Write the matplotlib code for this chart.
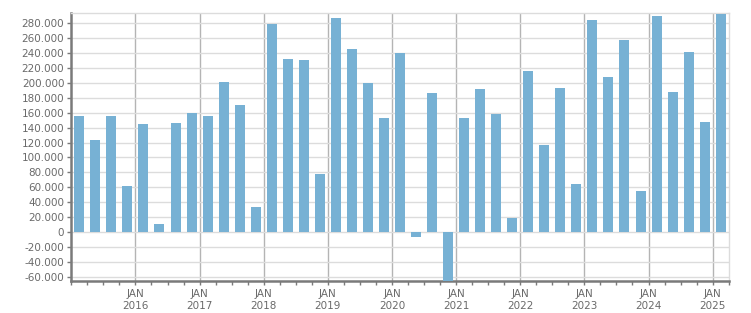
import matplotlib
matplotlib.use("Agg")
import matplotlib.pyplot as plt
from matplotlib.ticker import FuncFormatter, MultipleLocator, FixedLocator

# Quarterly values, 2015 Q1 .. 2025 Q1
quarters = [f"{y} Q{q}" for y in range(2015, 2026) for q in range(1, 5)][:41]
values = [
    155600, 123400, 155600, 61700,
    144800, 10700, 146200, 159600,
    155600, 201200, 170300, 33500,
    278900, 232000, 230700, 77800,
    287000, 245400, 199800, 152900,
    240000, -6700, 186400, -70000,
    152900, 191800, 158200, 18800,
    215900, 116700, 193100, 64400,
    284300, 207900, 257500, 55000,
    289700, 187700, 241400, 147500,
    292300,
]
year_labels = [f"JAN\n{y}" for y in range(2016, 2026)]

bar_color = "#77B1D4"
text_color = "#6a6a6a"

fig = plt.figure(figsize=(7.51, 3.13), dpi=100)
ax = fig.add_axes([71.3 / 751, 1 - 280.7 / 313, (728.7 - 71.3) / 751, (280.7 - 13.3) / 313])

x = [i + 0.5 for i in range(len(values))]
ax.bar(x, values, width=0.625, color=bar_color, zorder=3)

ax.set_xlim(0, 41)
ax.set_ylim(-65300, 293400)

ax.yaxis.set_major_locator(MultipleLocator(20000))
ax.yaxis.set_major_formatter(FuncFormatter(lambda v, p: f"{int(round(v)):,}".replace(",", ".")))

ax.xaxis.set_major_locator(FixedLocator([4 * (k + 1) for k in range(len(year_labels))]))
ax.set_xticklabels(year_labels)
ax.xaxis.set_minor_locator(MultipleLocator(1))

ax.grid(axis="y", color="#dcdcdc", linewidth=1.0, zorder=0)
ax.grid(axis="x", which="major", color="#b4b4b4", linewidth=1.0, zorder=1)

for s in ["top", "right"]:
    ax.spines[s].set_color("#dcdcdc")
    ax.spines[s].set_linewidth(1.0)
for s in ["left", "bottom"]:
    ax.spines[s].set_color("#7a7a7a")
    ax.spines[s].set_linewidth(1.8)

ax.tick_params(axis="y", which="major", length=3, width=1, color="#7a7a7a",
               labelsize=7.5, labelcolor=text_color, pad=2)
ax.tick_params(axis="x", which="both", length=3, width=1, color="#7a7a7a",
               labelsize=7.5, labelcolor=text_color, pad=3)
for lab in ax.get_xticklabels():
    lab.set_linespacing(1.25)

fig.savefig("out.png", dpi=100)
